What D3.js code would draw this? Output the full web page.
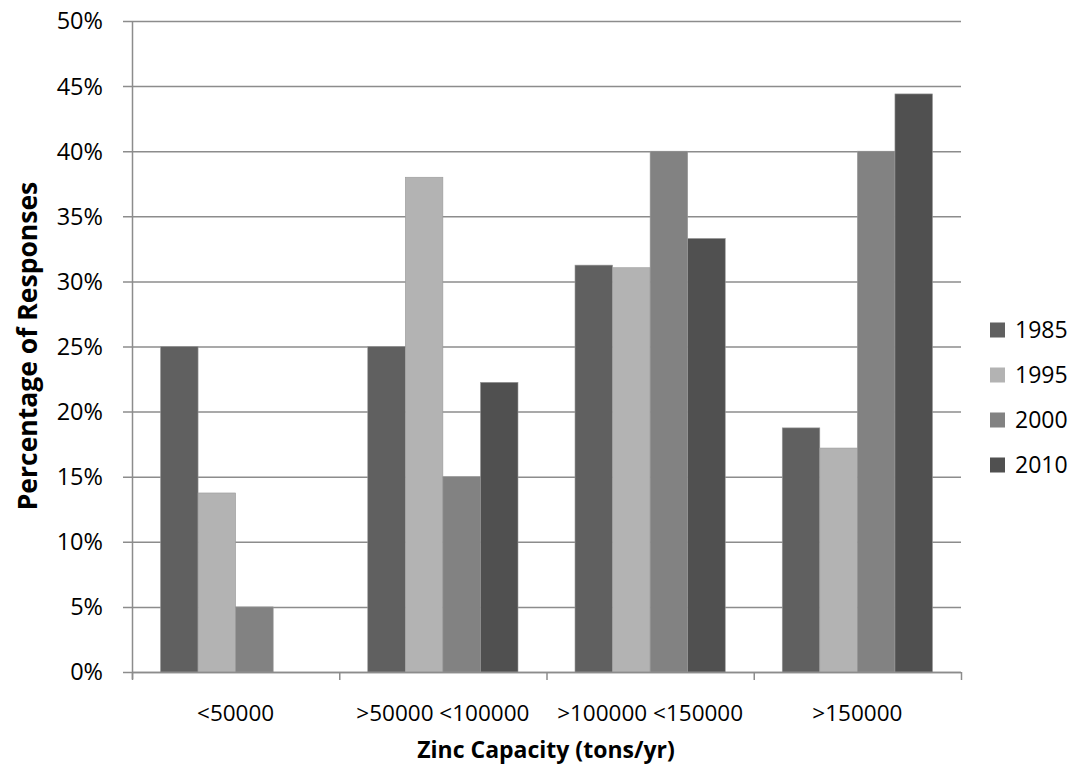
<!DOCTYPE html>
<html>
<head>
<meta charset="utf-8">
<script src="https://cdn.jsdelivr.net/npm/d3@7"></script>
<style>
  body { margin: 0; background: #fff; }
  text { font-family: "Open Sans", "Noto Sans", sans-serif; fill: #000; }
</style>
</head>
<body>
<svg id="chart" width="1076" height="778"></svg>
<script>
var categories = ["<50000", ">50000 <100000", ">100000 <150000", ">150000"];
var years = ["1985", "1995", "2000", "2010"];
var s1985 = [25, 25, 31.25, 18.75];
var s1995 = [13.75, 38, 31.05, 17.2];
var s2000 = [5, 15, 40, 40];
var s2010 = [0, 22.25, 33.3, 44.4];
var yTicks = [0, 5, 10, 15, 20, 25, 30, 35, 40, 45, 50];
var colors = ["#606060", "#b3b3b3", "#828282", "#505050"];

var series = [s1985, s1995, s2000, s2010];

var svg = d3.select("#chart"),
    margin = { top: 21, right: 115, bottom: 106, left: 132 },
    width = 961 - margin.left,
    height = 672 - margin.top;

var g = svg.append("g")
    .attr("transform", "translate(" + margin.left + "," + margin.top + ")");

var x0 = d3.scaleBand().domain(categories).range([0, width]).padding(0);
var x1 = d3.scaleBand().domain(years)
    .range([28.5, x0.bandwidth() - 28.5]).padding(0);
var y = d3.scaleLinear().domain([0, 50]).range([height, 0]);

// gridlines with the little tick on the left
g.append("g")
    .selectAll("line")
    .data(yTicks)
    .enter().append("line")
    .attr("x1", -9)
    .attr("x2", width)
    .attr("y1", function(d) { return y(d) + 0.5; })
    .attr("y2", function(d) { return y(d) + 0.5; })
    .attr("stroke", "#8c8c8c")
    .attr("stroke-width", 1.5);

g.append("g")
    .selectAll("text")
    .data(yTicks)
    .enter().append("text")
    .attr("x", -29)
    .attr("y", function(d) { return y(d); })
    .attr("dy", "0.36em")
    .attr("text-anchor", "end")
    .style("font-size", "23.5px")
    .text(function(d) { return d + "%"; });

// bars
var rows = categories.map(function(c, i) {
    return { cat: c, vals: years.map(function(yr, j) { return { year: yr, v: series[j][i], k: j }; }) };
});

g.selectAll(".grp")
    .data(rows)
    .enter().append("g")
    .attr("class", "grp")
    .attr("transform", function(d) { return "translate(" + x0(d.cat) + ",0)"; })
    .selectAll("rect")
    .data(function(d) { return d.vals.filter(function(e) { return e.v > 0; }); })
    .enter().append("rect")
    .attr("x", function(d) { return x1(d.year); })
    .attr("width", x1.bandwidth())
    .attr("y", function(d) { return y(d.v); })
    .attr("height", function(d) { return height - y(d.v); })
    .style("fill", function(d) { return colors[d.k]; })
    .style("stroke", "#9a9a9a")
    .style("stroke-width", 0.6);

// axes lines
g.append("line")
    .attr("x1", 0.5).attr("x2", 0.5)
    .attr("y1", 0).attr("y2", height + 7)
    .attr("stroke", "#8c8c8c").attr("stroke-width", 1.5);

g.append("line")
    .attr("x1", 0).attr("x2", width)
    .attr("y1", height + 0.5).attr("y2", height + 0.5)
    .attr("stroke", "#8c8c8c").attr("stroke-width", 1.5);

var xTicks = categories.map(function(c) { return x0(c); }).concat([width]);
g.selectAll(".xtick")
    .data(xTicks)
    .enter().append("line")
    .attr("class", "xtick")
    .attr("x1", function(d) { return d + 0.5; })
    .attr("x2", function(d) { return d + 0.5; })
    .attr("y1", height)
    .attr("y2", height + 8)
    .attr("stroke", "#8c8c8c").attr("stroke-width", 1.5);

g.selectAll(".xlab")
    .data(categories)
    .enter().append("text")
    .attr("class", "xlab")
    .attr("x", function(d) { return x0(d) + x0.bandwidth() / 2; })
    .attr("y", height + 41)
    .attr("dy", "0.36em")
    .attr("text-anchor", "middle")
    .style("font-size", "22.5px")
    .text(function(d) { return d; });

// titles
svg.append("text")
    .attr("x", 546)
    .attr("y", 750)
    .attr("dy", "0.36em")
    .attr("text-anchor", "middle")
    .attr("font-weight", "bold")
    .style("font-size", "23px")
    .text("Zinc Capacity (tons/yr)");

svg.append("text")
    .attr("transform", "translate(27,346) rotate(-90)")
    .attr("dy", "0.36em")
    .attr("text-anchor", "middle")
    .attr("font-weight", "bold")
    .style("font-size", "26.5px")
    .text("Percentage of Responses");

// legend
var legend = svg.append("g")
    .selectAll("g")
    .data(years)
    .enter().append("g")
    .attr("transform", function(d, i) { return "translate(990," + (330 + i * 45) + ")"; });

legend.append("rect")
    .attr("x", 0).attr("y", -7.5)
    .attr("width", 15).attr("height", 15)
    .style("fill", function(d, i) { return colors[i]; });

legend.append("text")
    .attr("x", 25)
    .attr("dy", "0.36em")
    .style("font-size", "23px")
    .text(function(d) { return d; });
</script>
</body>
</html>
